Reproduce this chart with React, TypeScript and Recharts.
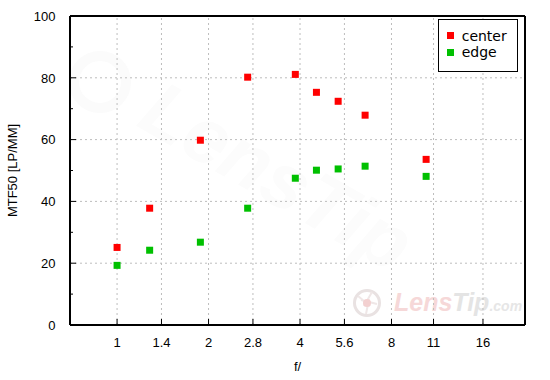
import React from 'react';
import { ScatterChart, Scatter, XAxis, YAxis, ReferenceLine } from 'recharts';

// Aperture (f-number) of each measurement
const fNumbers = [1.0, 1.28, 1.88, 2.69, 3.86, 4.53, 5.34, 6.55, 10.4];
// MTF50 resolution in lp/mm
const centerValues = [25.1, 37.8, 59.8, 80.2, 81.1, 75.3, 72.4, 67.9, 53.6];
const edgeValues = [19.3, 24.2, 26.8, 37.8, 47.5, 50.1, 50.5, 51.4, 48.1];

const seriesNames = ['center', 'edge'];
const seriesColors = ['#ff0000', '#00c000'];

const xTicks = [1, 1.4, 2, 2.8, 4, 5.6, 8, 11, 16];
const xTickLabels = ['1', '1.4', '2', '2.8', '4', '5.6', '8', '11', '16'];
const xDomain = [0.7, 22];
const yTicks = [0, 10, 20, 30, 40, 50, 60, 70, 80, 90, 100];
const yGrid = [20, 40, 60, 80];
const yDomain = [0, 100];

const centerData = fNumbers.map((f, i) => ({ f, v: centerValues[i] }));
const edgeData = fNumbers.map((f, i) => ({ f, v: edgeValues[i] }));

const FONT = '"Liberation Sans", Arial, sans-serif';
const GRID = '#bdbdbd';

const SquareDot = (props: any) => {
  const { cx, cy, fill } = props;
  if (cx == null || cy == null) return null;
  return <rect x={cx - 3.5} y={cy - 3.5} width={7} height={7} fill={fill} />;
};

const XTick = (props: any) => {
  const { x, y, payload } = props;
  const idx = xTicks.indexOf(payload.value);
  return (
    <g>
      <line x1={x} x2={x} y1={y} y2={y - 6} stroke="#000" strokeWidth={1} />
      <text x={x} y={y + 21.7} textAnchor="middle" fontFamily={FONT} fontSize={13} fill="#000">
        {idx >= 0 ? xTickLabels[idx] : payload.value}
      </text>
    </g>
  );
};

const YTick = (props: any) => {
  const { x, y, payload } = props;
  const major = payload.value % 20 === 0;
  return (
    <g>
      <line x1={x} x2={x + (major ? 6 : 3)} y1={y} y2={y} stroke="#000" strokeWidth={1} />
      {major && (
        <text x={x - 14.5} y={y + 4.7} textAnchor="end" fontFamily={FONT} fontSize={13} fill="#000">
          {payload.value}
        </text>
      )}
    </g>
  );
};

const YTitle = (props: any) => {
  const vb = props.viewBox || {};
  const cy = (vb.y ?? 16) + (vb.height ?? 309) / 2;
  const bx = 16.7;
  return (
    <text x={bx} y={cy} transform={`rotate(-90, ${bx}, ${cy})`} textAnchor="middle" fontFamily={FONT} fontSize={13} fill="#000">
      MTF50 [LP/MM]
    </text>
  );
};

const XTitle = (props: any) => {
  const vb = props.viewBox || {};
  const cx = (vb.x ?? 70) + (vb.width ?? 455) / 2;
  return (
    <text x={cx} y={370.5} textAnchor="middle" fontFamily={FONT} fontSize={13} fill="#000">
      f/
    </text>
  );
};

const Watermark = () => (
  <svg width={550} height={380} style={{ position: 'absolute', left: 0, top: 0 }}>
    {/* faint large background mark */}
    <g>
      <circle cx={100} cy={82} r={26} fill="none" stroke="#fbfbfb" strokeWidth={10} />
      <text
        x={135}
        y={125}
        transform="rotate(30, 135, 125)"
        fontFamily={FONT}
        fontWeight="bold"
        fontStyle="italic"
        fontSize={78}
        fill="#fcfcfc"
      >
        LensTip
      </text>
    </g>
    {/* logo in the lower right corner */}
    <g>
      <circle cx={367} cy={303} r={12.5} fill="none" stroke="#e9e2e2" strokeWidth={3} />
      <path d="M358 296 L370 306 M372 292 L364 306 M377 304 L361 300 M366 314 L369 299" stroke="#efe7e7" strokeWidth={2} />
      <circle cx={367} cy={303} r={4} fill="#f3d0d0" />
      <text x={394} y={311} fontFamily={FONT} fontWeight="bold" fontStyle="italic" fontSize={25}>
        <tspan fill="#f6d8d8">Lens</tspan>
        <tspan fill="#e4e4e4">Tip</tspan>
        <tspan fill="#e6e6e6" fontSize={14}>.com</tspan>
      </text>
    </g>
  </svg>
);

const LegendBox = () => (
  <svg width={81} height={54} style={{ position: 'absolute', left: 438, top: 19 }}>
    <rect x={0.5} y={0.5} width={79} height={52} fill="#fff" stroke="#000" strokeWidth={1} />
    {seriesNames.map((name, i) => (
      <g key={name}>
        <rect x={9} y={13 + i * 17} width={7} height={7} fill={seriesColors[i]} />
        <text x={23.7} y={21.7 + i * 16.6} fontFamily='"DejaVu Sans", sans-serif' fontSize={14} fill="#000">
          {name}
        </text>
      </g>
    ))}
  </svg>
);

export default function App() {
  return (
    <div style={{ position: 'absolute', left: 0, top: 0, width: 550, height: 380, background: '#fff' }}>
      <Watermark />
      <div style={{ position: 'absolute', left: 0, top: 0 }}>
        <ScatterChart width={550} height={380} margin={{ top: 16, right: 25, bottom: 0, left: 0 }}>
          <XAxis
            dataKey="f"
            type="number"
            scale="log"
            domain={xDomain}
            allowDataOverflow
            ticks={xTicks}
            interval={0}
            height={55}
            tickSize={0}
            tickMargin={0}
            tickLine={false}
            axisLine={{ stroke: '#000', strokeWidth: 2 }}
            tick={<XTick />}
            label={<XTitle />}
          />
          <YAxis
            dataKey="v"
            type="number"
            domain={yDomain}
            ticks={yTicks}
            interval={0}
            width={70}
            tickSize={0}
            tickMargin={0}
            tickLine={false}
            axisLine={{ stroke: '#000', strokeWidth: 2 }}
            tick={<YTick />}
            label={<YTitle />}
          />
          {xTicks.map((t) => (
            <ReferenceLine key={`vx${t}`} x={t} stroke={GRID} strokeDasharray="2 3" strokeWidth={1} />
          ))}
          {yGrid.map((t) => (
            <ReferenceLine key={`hy${t}`} y={t} stroke={GRID} strokeDasharray="2 3" strokeWidth={1} />
          ))}
          <ReferenceLine y={yDomain[1]} stroke="#000" strokeWidth={2} />
          <ReferenceLine x={xDomain[1]} stroke="#000" strokeWidth={2} />
          <Scatter name={seriesNames[0]} data={centerData} fill={seriesColors[0]} shape={<SquareDot />} isAnimationActive={false} />
          <Scatter name={seriesNames[1]} data={edgeData} fill={seriesColors[1]} shape={<SquareDot />} isAnimationActive={false} />
        </ScatterChart>
      </div>
      <LegendBox />
    </div>
  );
}
